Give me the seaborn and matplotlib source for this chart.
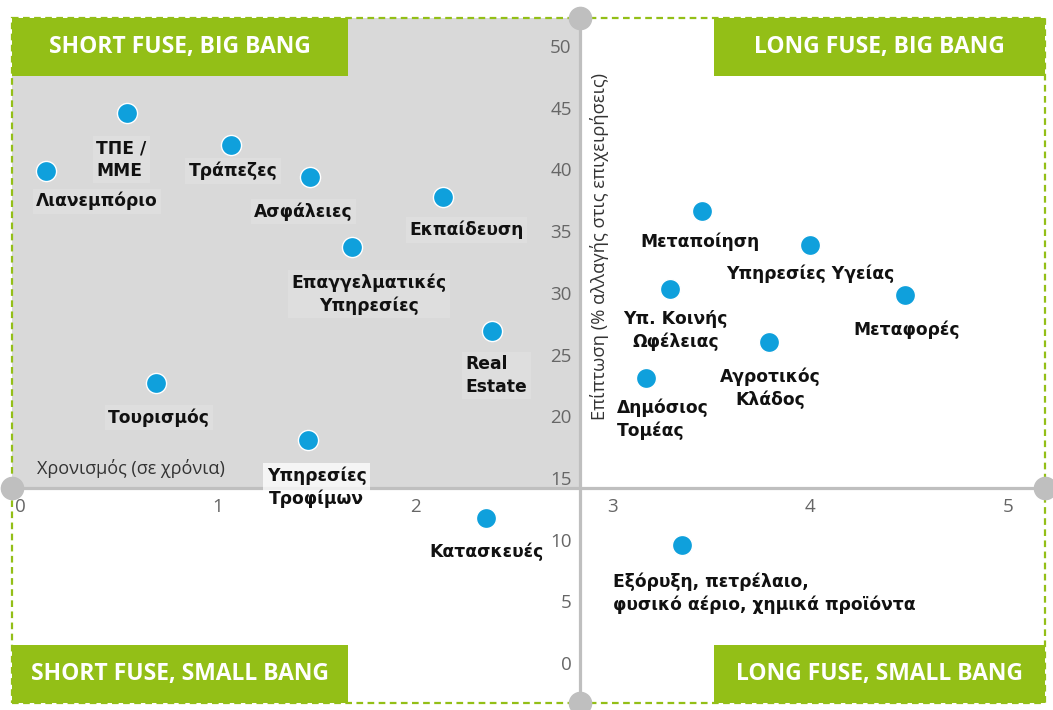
import matplotlib
matplotlib.use("Agg")
import matplotlib.pyplot as plt
import matplotlib.patches as patches
import pandas as pd
import seaborn as sns

# Sectors, x = timing (years), y = impact (% change in business)
sectors = ["Λιανεμπόριο", "ΤΠΕ /\nΜΜΕ", "Τράπεζες", "Ασφάλειες", "Εκπαίδευση",
           "Επαγγελματικές\nΥπηρεσίες", "Real\nEstate", "Τουρισμός",
           "Υπηρεσίες\nΤροφίμων", "Κατασκευές",
           "Εξόρυξη, πετρέλαιο,\nφυσικό αέριο, χημικά προϊόντα",
           "Μεταποίηση", "Υπηρεσίες Υγείας", "Μεταφορές",
           "Υπ. Κοινής\nΩφέλειας", "Αγροτικός\nΚλάδος", "Δημόσιος\nΤομέας"]
timing = [0.13, 0.54, 1.07, 1.47, 2.14, 1.68, 2.39, 0.69, 1.46, 2.36,
          3.35, 3.45, 4.00, 4.48, 3.29, 3.79, 3.17]
impact = [39.9, 44.6, 42.0, 39.4, 37.8, 33.7, 26.9, 22.7, 18.1, 11.75,
          9.6, 36.6, 33.9, 29.8, 30.3, 26.0, 23.1]

x_ticks = [0, 1, 2, 3, 4, 5]
y_ticks = [0, 5, 10, 15, 20, 25, 30, 35, 40, 45, 50]
quadrants = ["SHORT FUSE, BIG BANG", "LONG FUSE, BIG BANG",
             "SHORT FUSE, SMALL BANG", "LONG FUSE, SMALL BANG"]
x_title = "Χρονισμός (σε χρόνια)"
y_title = "Επίπτωση (% αλλαγής στις επιχειρήσεις)"

# label placement: offset of label from its dot (points), alignment
label_pos = [(37, -22, "center"), (-22, -34, "left"), (1, -19, "center"),
             (-5, -25, "center"), (17, -24, "center"), (12, -34, "center"),
             (-19, -32, "left"), (2, -25, "center"), (6, -34, "center"),
             (0, -24, "center"), (-50, -35, "left"), (-1, -22, "center"),
             (0, -21, "center"), (1, -25, "center"), (4, -30, "center"),
             (1, -33, "center"), (-21, -30, "left")]

GREEN = "#93bf17"
BLUE = "#0fa0dc"
AXGREY = "#bfbfbf"
SHADE = "#d9d9d9"

sns.set_style("white")
plt.rcParams["font.family"] = ["DejaVu Sans"]

df = pd.DataFrame({"sector": sectors, "timing": timing, "impact": impact})

fig = plt.figure(figsize=(10.53, 7.10), dpi=100)
ax = fig.add_axes([12 / 1053, 7 / 710, 1033 / 1053, 685 / 710])

xmin, xmax = -0.04, 5.187
ymin, ymax = -3.24, 52.27
cross_x, cross_y = 2.834, 14.18
ax.set_xlim(xmin, xmax)
ax.set_ylim(ymin, ymax)

# shaded quadrant
ax.fill_between([xmin, cross_x], cross_y, ymax, color=SHADE, lw=0, zorder=0)

sns.scatterplot(data=df, x="timing", y="impact", ax=ax, s=210, color=BLUE,
                edgecolor="white", linewidth=1, zorder=4)

for i, row in df.iterrows():
    dx, dy, ha = label_pos[i]
    alpha = 0.75 if row["sector"].startswith("Υπηρεσίες\n") else 0.15
    ax.annotate(row["sector"], (row["timing"], row["impact"]), xytext=(dx, dy),
                textcoords="offset points", ha=ha, va="center", multialignment=ha,
                fontsize=12.3, fontweight="bold", color="#111111", zorder=5,
                linespacing=1.3,
                bbox=dict(boxstyle="square,pad=0.2", fc="white", ec="none", alpha=alpha))

# axes through the middle
for s in ["top", "right"]:
    ax.spines[s].set_visible(False)
ax.spines["left"].set_position(("data", cross_x))
ax.spines["bottom"].set_position(("data", cross_y))
for s in ["left", "bottom"]:
    ax.spines[s].set_color(AXGREY)
    ax.spines[s].set_linewidth(2.3)
ax.set_xticks(x_ticks)
ax.set_yticks(y_ticks)
ax.tick_params(length=0, labelsize=13.5, labelcolor="#666666")
ax.tick_params(axis="y", pad=6)
ax.tick_params(axis="x", pad=7)
for lab in ax.get_xticklabels() + ax.get_yticklabels():
    lab.set_fontfamily("Open Sans")
ax.set_xlabel("")
ax.set_ylabel("")

# grey knobs at the axis ends
ax.plot([cross_x, cross_x, xmin, xmax], [ymax, ymin, cross_y, cross_y], "o",
        color=AXGREY, ms=16, clip_on=False, zorder=6)

ax.annotate(x_title, (0.024, cross_y), xycoords=("axes fraction", "data"),
            xytext=(0, 14), textcoords="offset points", ha="left", va="center",
            fontsize=13, color="#333333", family="Open Sans")
ax.annotate(y_title, (cross_x, 0.667), xycoords=("data", "axes fraction"),
            xytext=(14, 0), textcoords="offset points", ha="center", va="center",
            rotation=90, fontsize=13.2, color="#333333", family="Open Sans")

# dashed green frame
ax.add_patch(patches.Rectangle((0, 0), 1, 1, transform=ax.transAxes, fill=False,
                               ec=GREEN, lw=1.6, ls=(0, (3, 2)), clip_on=False, zorder=1))

# quadrant title boxes
bw, bh = 336 / 1033, 58 / 685
boxes = [(0, 1 - bh), (1 - 331 / 1033, 1 - bh), (0, 0), (1 - 331 / 1033, 0)]
for (bx, by), title in zip(boxes, quadrants):
    w = bw if bx == 0 else 331 / 1033
    ax.add_patch(patches.Rectangle((bx, by), w, bh, transform=ax.transAxes,
                                   fc=GREEN, ec="none", zorder=7, clip_on=False))
    ax.text(bx + w / 2, by + bh / 2, title, transform=ax.transAxes, ha="center",
            va="center", color="white", fontsize=16.5, fontweight="bold",
            family="Open Sans", zorder=8)

fig.savefig("out.png", dpi=100)
